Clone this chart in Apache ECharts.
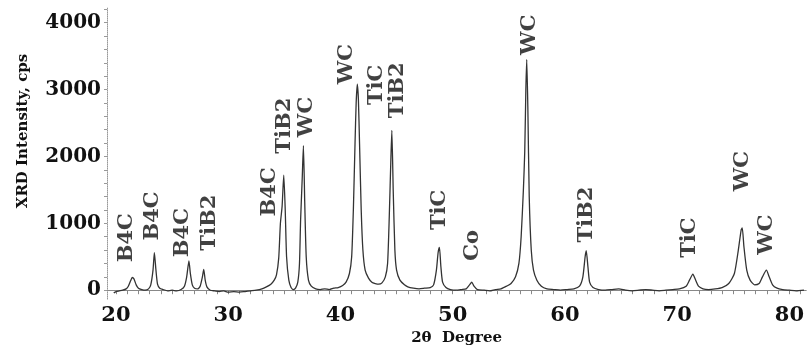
<!DOCTYPE html>
<html>
<head>
<meta charset="utf-8">
<script src="https://cdn.jsdelivr.net/npm/echarts@6/dist/echarts.min.js"></script>
<style>
  html, body { margin: 0; padding: 0; background: #fff; }
  #xrd { width: 807px; height: 351px; }
</style>
</head>
<body>
<div id="xrd"></div>
<script>
var xrdChart = echarts.init(document.getElementById("xrd"));

// tick labels
var xTicks = [20, 30, 40, 50, 60, 70, 80];
var yTicks = [0, 1000, 2000, 3000, 4000];

// pattern: [2theta, cps]
var pattern = [
    [19.8,-40],[20.0,-20],[20.3,-10],[20.6,0],[20.9,20],[21.1,60],[21.3,140],[21.45,190],
    [21.6,170],[21.8,80],[22.0,30],[22.3,10],[22.6,0],[22.9,20],[23.1,80],[23.3,300],
    [23.42,560],[23.55,320],[23.7,90],[23.9,30],[24.2,10],[24.6,-10],[25.0,0],[25.4,-10],
    [25.8,10],[26.1,60],[26.3,200],[26.5,440],[26.62,260],[26.8,80],[27.0,30],[27.3,20],
    [27.5,60],[27.7,200],[27.82,310],[27.95,150],[28.1,50],[28.4,0],[28.8,-10],[29.2,-20],
    [29.6,-10],[30.0,-30],[30.5,-20],[31.0,-30],[31.5,-20],[32.0,-10],[32.5,0],[33.0,20],
    [33.4,50],[33.8,90],[34.1,150],[34.3,230],[34.5,480],[34.65,1000],[34.8,1250],[34.95,1720],
    [35.08,1200],[35.2,500],[35.4,150],[35.6,40],[35.8,10],[36.0,30],[36.2,120],[36.35,400],
    [36.45,1050],[36.6,1700],[36.7,2160],[36.82,1300],[36.95,500],[37.15,150],[37.4,60],[37.8,20],
    [38.2,10],[38.6,20],[39.0,10],[39.4,30],[39.8,40],[40.2,70],[40.5,120],[40.8,250],
    [41.0,500],[41.15,1200],[41.3,2200],[41.4,2800],[41.5,3080],[41.6,2850],[41.7,2200],[41.85,1200],
    [42.0,600],[42.2,300],[42.5,180],[42.8,120],[43.1,100],[43.4,90],[43.7,110],[44.0,200],
    [44.2,400],[44.35,1100],[44.5,2000],[44.58,2390],[44.7,1500],[44.85,600],[45.0,300],[45.3,150],
    [45.7,80],[46.0,50],[46.5,30],[47.0,20],[47.5,30],[48.0,40],[48.3,80],[48.55,300],
    [48.7,560],[48.82,640],[48.95,350],[49.1,120],[49.4,40],[49.8,10],[50.3,0],[50.8,10],
    [51.2,20],[51.5,80],[51.7,120],[51.9,60],[52.2,10],[52.8,0],[53.3,-10],[53.8,10],
    [54.3,20],[54.8,60],[55.2,100],[55.6,200],[55.9,400],[56.1,800],[56.3,1500],[56.42,2070],
    [56.52,3000],[56.6,3450],[56.7,2700],[56.82,1400],[57.0,600],[57.2,300],[57.5,150],[57.9,60],
    [58.4,20],[59.0,10],[59.6,0],[60.2,10],[60.8,20],[61.3,60],[61.6,200],[61.8,500],
    [61.9,590],[62.05,350],[62.2,120],[62.5,40],[63.0,10],[63.6,0],[64.2,10],[64.8,20],
    [65.4,0],[66.0,-10],[66.6,0],[67.2,10],[67.8,0],[68.4,-10],[69.0,0],[69.6,10],
    [70.2,20],[70.8,60],[71.1,150],[71.4,240],[71.65,150],[71.9,60],[72.3,20],[72.8,10],
    [73.4,20],[74.0,40],[74.6,100],[75.1,250],[75.45,600],[75.7,900],[75.8,930],[75.95,650],
    [76.2,300],[76.5,150],[76.9,80],[77.3,100],[77.6,200],[77.95,300],[78.2,200],[78.5,80],
    [78.9,30],[79.4,10],[80.0,0],[80.6,-10],[81.3,0]
];

// phase labels: [2theta, cps at label centre, phase]
var phaseLabels = [
    [20.98, 785, 'B4C'],
    [23.3, 1110, 'B4C'],
    [25.97, 860, 'B4C'],
    [28.37, 1010, 'TiB2'],
    [33.7, 1470, 'B4C'],
    [35.05, 2460, 'TiB2'],
    [37.0, 2590, 'WC'],
    [40.57, 3380, 'WC'],
    [43.24, 3070, 'TiC'],
    [45.1, 2990, 'TiB2'],
    [48.85, 1200, 'TiC'],
    [51.8, 670, 'Co'],
    [56.87, 3820, 'WC'],
    [61.94, 1130, 'TiB2'],
    [71.1, 785, 'TiC'],
    [75.83, 1780, 'WC'],
    [77.97, 830, 'WC']
];

var minorX = [];
for (var i = 20; i <= 81; i++) minorX.push(i);
var minorY = [];
for (var j = 0; j <= 4200; j += 200) minorY.push(j);

var serif = 'DejaVu Serif';

var xrdOption = {
    animation: false,
    backgroundColor: '#fff',
    grid: { left: 107, right: 0, top: 8, bottom: 49 },
    xAxis: {
        type: 'value',
        min: 19.2,
        max: 81.5,
        name: '2θ  Degree',
        nameLocation: 'middle',
        nameGap: 31,
        nameTextStyle: { fontFamily: serif, fontWeight: 'bold', fontSize: 15, color: '#111' },
        axisLine: { lineStyle: { color: '#888', width: 1 } },
        axisTick: { customValues: minorX, length: 4, lineStyle: { color: '#888' } },
        axisLabel: {
            customValues: xTicks,
            fontFamily: serif, fontWeight: 'bold', fontSize: 21, color: '#111', margin: 6
        },
        splitLine: { show: false }
    },
    yAxis: {
        type: 'value',
        min: -133,
        max: 4220,
        axisLine: { show: true, lineStyle: { color: '#999', type: 'dotted', width: 1 } },
        axisTick: { show: true, customValues: minorY, length: 3, lineStyle: { color: '#999' } },
        axisLabel: {
            customValues: yTicks,
            formatter: function (v) { return String(v); },
            fontFamily: serif, fontWeight: 'bold', fontSize: 20, color: '#111', margin: 6
        },
        splitLine: { show: false }
    },
    graphic: [{
        type: 'text',
        x: 23, y: 131,
        rotation: Math.PI / 2,
        style: {
            text: 'XRD Intensity, cps',
            font: 'bold 15px "DejaVu Serif"',
            fill: '#111',
            align: 'center',
            verticalAlign: 'middle'
        }
    }],
    series: [{
        type: 'line',
        data: pattern,
        showSymbol: false,
        smooth: 0.2,
        lineStyle: { color: '#333', width: 1.3 },
        silent: true
    }, {
        type: 'scatter',
        data: phaseLabels,
        symbolSize: 0,
        silent: true,
        label: {
            show: true,
            position: 'inside',
            rotate: 90,
            formatter: function (p) { return p.data[2]; },
            fontFamily: serif,
            fontWeight: 'bold',
            fontSize: 21,
            color: '#111'
        }
    }]
};

xrdChart.setOption(xrdOption);
</script>
</body>
</html>
